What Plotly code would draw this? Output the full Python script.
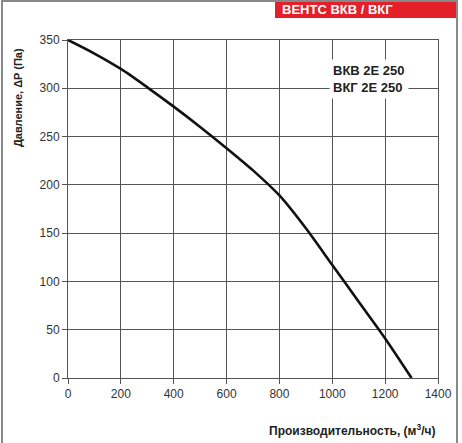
import plotly.graph_objects as go

flow = [0, 100, 200, 300, 400, 500, 600, 700, 800, 900, 1000, 1100, 1200, 1300]
pressure = [350, 336, 320, 301, 281, 260, 238, 215, 189, 155, 117, 79, 41, 0]
x_ticks = [0, 200, 400, 600, 800, 1000, 1200, 1400]
y_ticks = [0, 50, 100, 150, 200, 250, 300, 350]

W, H = 462, 443
ML, MR, MT, MB = 68, 24, 40, 65
PW, PH = W - ML - MR, H - MT - MB

fig = go.Figure()
fig.add_trace(go.Scatter(x=flow, y=pressure, mode="lines",
                         line=dict(color="#111111", width=2.6, shape="spline", smoothing=0.8),
                         hoverinfo="skip", showlegend=False))

axis_common = dict(showgrid=True, gridcolor="#555555", gridwidth=1,
                   showline=True, linecolor="#555555", linewidth=1, mirror=True,
                   ticks="outside", ticklen=5, tickcolor="#555555",
                   tickfont=dict(family="Liberation Sans, Arial", size=12, color="#333333"),
                   zeroline=False, automargin=False)

fig.update_xaxes(range=[0, 1400], tickvals=x_ticks, **axis_common)
fig.update_yaxes(range=[0, 350], tickvals=y_ticks, **axis_common)

def px(xp):
    return (xp - ML) / PW
def py(yp):
    return (H - MB - yp) / PH

fig.update_layout(
    width=W, height=H,
    margin=dict(l=ML, r=MR, t=MT, b=MB),
    paper_bgcolor="white", plot_bgcolor="white",
    shapes=[
        dict(type="rect", xref="paper", yref="paper",
             x0=px(2), x1=px(457), y0=py(1), y1=py(446),
             line=dict(color="#888888", width=2), fillcolor="rgba(0,0,0,0)"),
        dict(type="rect", xref="paper", yref="paper",
             x0=px(275), x1=px(456), y0=py(2), y1=py(18),
             line=dict(width=0), fillcolor="#e3202a"),
    ],
    annotations=[
        dict(text="<b>ВЕНТС ВКВ / ВКГ</b>", xref="paper", yref="paper",
             x=px(337), y=py(10), xanchor="center", yanchor="middle", showarrow=False,
             font=dict(family="Liberation Sans Narrow, Liberation Sans, Arial", size=13, color="white")),
        dict(text="<b>ВКВ 2Е 250<br>ВКГ 2Е 250</b>", xref="paper", yref="paper",
             x=px(329), y=py(79), xanchor="left", yanchor="middle", showarrow=False,
             align="left", bgcolor="white", borderpad=3,
             font=dict(family="Liberation Sans, Arial", size=13, color="#222222")),
        dict(text="<b>Давление, ΔP (Па)</b>", xref="paper", yref="paper",
             x=px(18), y=py(98), xanchor="center", yanchor="middle", showarrow=False,
             textangle=-90,
             font=dict(family="Liberation Sans, Arial", size=11, color="#222222")),
        dict(text="<b>Производительность, (м<sup>3</sup>/ч)</b>", xref="paper", yref="paper",
             x=px(437), y=py(430), xanchor="right", yanchor="middle", showarrow=False,
             font=dict(family="Liberation Sans, Arial", size=12, color="#222222")),
    ],
)

fig.write_html("out.html", config={"displayModeBar": False, "staticPlot": True},
               post_script="document.body.style.margin='0';document.body.style.overflow='hidden';")
